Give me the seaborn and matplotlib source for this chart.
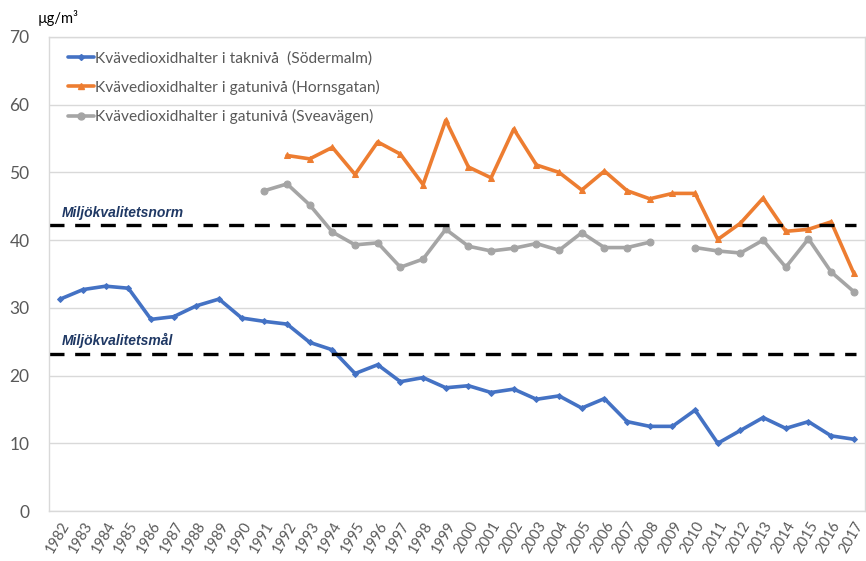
import numpy as np
import pandas as pd
import matplotlib
matplotlib.use("Agg")
import matplotlib.pyplot as plt
import seaborn as sns
from matplotlib.lines import Line2D

# Data (µg/m3)
years = list(range(1982, 2018))

soder = [31.3, 32.7, 33.2, 32.9, 28.3, 28.7, 30.3, 31.3, 28.5, 28.0,
         27.6, 24.9, 23.8, 20.3, 21.6, 19.1, 19.7, 18.2, 18.5, 17.5,
         18.0, 16.5, 17.0, 15.2, 16.6, 13.2, 12.5, 12.5, 14.9, 10.0,
         11.9, 13.8, 12.2, 13.2, 11.1, 10.6]

horns = [np.nan] * 10 + [52.5, 52.0, 53.7, 49.7, 54.5, 52.7, 48.2, 57.7,
                         50.8, 49.2, 56.4, 51.1, 50.0, 47.4, 50.2, 47.3,
                         46.1, 46.9, 46.9, 40.1, 42.5, 46.2, 41.3, 41.6,
                         42.7, 35.1]

svea = [np.nan] * 9 + [47.3, 48.3, 45.2, 41.2, 39.3, 39.6, 36.0, 37.2,
                       41.6, 39.1, 38.4, 38.8, 39.5, 38.5, 41.1, 38.9,
                       38.9, 39.7, np.nan, 38.9, 38.4, 38.1, 40.0, 36.0,
                       40.2, 35.3, 32.4]

norm_value = 42.2
goal_value = 23.2

labels = ["Kvävedioxidhalter i taknivå  (Södermalm)",
          "Kvävedioxidhalter i gatunivå (Hornsgatan)",
          "Kvävedioxidhalter i gatunivå (Sveavägen)"]
colors = ["#4472C4", "#ED7D31", "#A5A5A5"]
markers = ["D", "^", "o"]
msizes = [3, 4, 5]

sns.set_style("white")
plt.rcParams["font.family"] = ["Lato", "DejaVu Sans"]

fig = plt.figure(figsize=(8.66, 5.61), dpi=100)
ax = fig.add_axes([0.0566, 0.0891, 0.9424, 0.845])

handles = []
for vals, lab, col, mk, ms in zip([soder, horns, svea], labels, colors, markers, msizes):
    df = pd.DataFrame({"year": years, "value": vals})
    # split into segments so gaps stay gaps
    df["seg"] = df["value"].isna().cumsum()
    df = df.dropna()
    sns.lineplot(data=df, x="year", y="value", units="seg", estimator=None,
                 color=col, linewidth=2.6, marker=mk, markersize=ms,
                 markeredgecolor=col, ax=ax, legend=False)
    handles.append(Line2D([], [], color=col, linewidth=2.6, marker=mk,
                          markersize=ms, markeredgecolor=col))

# Reference lines
ax.plot([1981.5, 2017.1], [norm_value, norm_value], color="black",
        linewidth=2.4, dashes=(4.5, 3.2))
ax.plot([1981.5, 2017.1], [goal_value, goal_value], color="black",
        linewidth=2.4, dashes=(4.5, 3.2))
ax.text(1982.05, 43.0, "Miljökvalitetsnorm", fontsize=10, fontweight="bold",
        fontstyle="italic", color="#1F3864", family="Liberation Sans",
        va="bottom", ha="left")
ax.text(1982.05, 24.1, "Miljökvalitetsmål", fontsize=10, fontweight="bold",
        fontstyle="italic", color="#1F3864", family="Liberation Sans",
        va="bottom", ha="left")

ax.set_xlim(1981.5, 2017.5)
ax.set_ylim(0, 70)
ax.set_yticks(range(0, 71, 10))
ax.set_xticks(years)
ax.set_xticklabels([str(y) for y in years], rotation=60, ha="right",
                   rotation_mode="anchor", fontsize=10.5, color="#595959")
ax.tick_params(axis="y", labelsize=12.5, labelcolor="#595959", length=0, pad=14)
ax.tick_params(axis="x", length=0, pad=6)
ax.set_xlabel("")
ax.set_ylabel("")
ax.grid(axis="y", color="#D9D9D9", linewidth=1)
ax.set_axisbelow(True)
for s in ax.spines.values():
    s.set_color("#D9D9D9")
    s.set_linewidth(1)

fig.text(38 / 866, 1 - 18 / 561, "µg/m³", fontsize=10.5, color="black",
         va="center", ha="left")

ax.legend(handles, labels, loc="upper left", bbox_to_anchor=(0.006, 1.0),
          frameon=False, fontsize=11.2, labelcolor="#595959",
          handlelength=1.65, handletextpad=0.1, labelspacing=0.92)

plt.savefig("out.png", dpi=100)
